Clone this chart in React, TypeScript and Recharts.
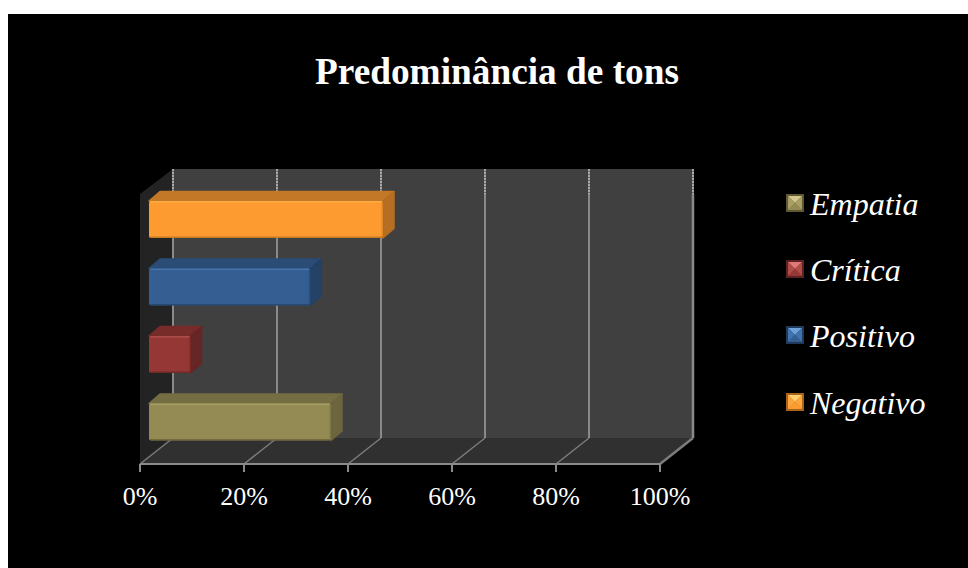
import { BarChart, Bar, XAxis, YAxis, CartesianGrid, Legend } from "recharts"

// De baixo para cima no gráfico
const categories = ["Empatia", "Crítica", "Positivo", "Negativo"]
const values = [35, 8, 31, 45]
const xTicks = [0, 20, 40, 60, 80, 100]

const rows = categories.map((name, i) => ({ name, [name]: values[i] }))

const SERIF = '"Liberation Serif", "Times New Roman", serif'

// front, top, side, light, mid, dark (swatch)
const palette: Record<string, { front: string; top: string; side: string; light: string; mid: string; dark: string }> = {
  Empatia: { front: "#948A54", top: "#766E43", side: "#6C653D", light: "#D2C88C", mid: "#A89E66", dark: "#5E5731" },
  Crítica: { front: "#953735", top: "#772C2A", side: "#662625", light: "#E07876", mid: "#B04C4A", dark: "#5C2120" },
  Positivo: { front: "#355F93", top: "#2A4C76", side: "#244166", light: "#6EA0DC", mid: "#4272AC", dark: "#1F3A5C" },
  Negativo: { front: "#FD9A30", top: "#C27826", side: "#B56E22", light: "#FFD070", mid: "#FDA63C", dark: "#A8641C" },
}

// profundidade da caixa 3D
const BOX_DX = 11
const BOX_DY = 9.5
// a barra fica no meio do piso, não no plano da frente
const BAR_SHIFT_X = 9
const BAR_SHIFT_Y = -8
// parede do fundo em relação ao plano da frente
const WALL_DX = 33
const WALL_DY = 26

function Box3D(props: any) {
  const { x, y, width, height, name } = props
  if (!width || width <= 0) return null
  const c = palette[name]
  const l = x + BAR_SHIFT_X
  const t = y + BAR_SHIFT_Y
  const r = l + width
  const b = t + height
  return (
    <g strokeLinejoin="round">
      <polygon
        points={`${l},${t} ${l + BOX_DX},${t - BOX_DY} ${r + BOX_DX},${t - BOX_DY} ${r},${t}`}
        fill={c.top}
        stroke={c.top}
        strokeWidth={1.5}
      />
      <polygon
        points={`${r},${t} ${r + BOX_DX},${t - BOX_DY} ${r + BOX_DX},${b - BOX_DY} ${r},${b}`}
        fill={c.side}
        stroke={c.side}
        strokeWidth={1.5}
      />
      <rect x={l} y={t} width={width} height={height} rx={2} fill={c.front} />
      <rect x={l + 1} y={t} width={width - 2} height={1.5} fill={c.light} opacity={0.35} />
      <rect x={l + 1} y={b - 1.5} width={width - 2} height={1.5} fill={c.dark} opacity={0.6} />
      <rect x={r - 1.5} y={t + 1} width={1.5} height={height - 2} fill={c.dark} opacity={0.35} />
    </g>
  )
}

// linha de grade: sobe pela parede do fundo e desce em diagonal pelo piso
function GridLine3D(props: any) {
  const { x1, y1, y2, index } = props
  const back = x1 + WALL_DX
  const isLast = x1 > 650
  return (
    <g key={index} fill="none">
      <line x1={back} y1={y1 - 25} x2={back} y2={y1} stroke="#6a6a6a" strokeWidth={2} />
      <line x1={back} y1={y1 - 25} x2={back} y2={y1} stroke="#a8a8a8" strokeWidth={2} strokeDasharray="2 1" />
      <line x1={back} y1={y1} x2={back} y2={y2 - WALL_DY} stroke="#8a8a8a" strokeWidth={isLast ? 2.5 : 2} />
      <line x1={back} y1={y2 - WALL_DY} x2={x1} y2={y2} stroke="#7c7c7c" strokeWidth={isLast ? 2.5 : 1.5} />
    </g>
  )
}

function Swatch({ y, name }: { y: number; name: string }) {
  const c = palette[name]
  const x = 6
  const s = 18
  const m = 2
  const cx = x + s / 2
  const cy = y + s / 2
  return (
    <g>
      <rect x={x} y={y} width={s} height={s} fill={c.dark} />
      <polygon points={`${x + m},${y + m} ${x + s - m},${y + m} ${cx},${cy}`} fill={c.light} />
      <polygon points={`${x + m},${y + s - m} ${x + s - m},${y + s - m} ${cx},${cy}`} fill={c.front} />
      <polygon points={`${x + m},${y + m} ${x + m},${y + s - m} ${cx},${cy}`} fill={c.mid} />
      <polygon points={`${x + s - m},${y + m} ${x + s - m},${y + s - m} ${cx},${cy}`} fill={c.mid} />
    </g>
  )
}

const legendBaselines = [35, 101, 167, 234]

function ToneLegend({ payload }: any) {
  return (
    <svg width={170} height={260} style={{ display: "block" }}>
      {(payload || []).map((entry: any, i: number) => (
        <g key={entry.value}>
          <Swatch y={legendBaselines[i] - 21} name={entry.value} />
          <text x={30} y={legendBaselines[i]} fill="#fff" fontFamily={SERIF} fontStyle="italic" fontSize={32}>
            {entry.value}
          </text>
        </g>
      ))}
    </svg>
  )
}

export default function App() {
  return (
    <div style={{ position: "absolute", left: 0, top: 0, width: 968, height: 568, background: "#fff", overflow: "hidden" }}>
      <div style={{ position: "absolute", left: 8, top: 14, width: 960, height: 554, background: "#000" }} />
      {/* paredes e piso ficam atrás do gráfico, que tem fundo transparente */}
      <svg width={968} height={568} style={{ position: "absolute", left: 0, top: 0 }}>
        <polygon points="173,169 693,169 693,438 173,438" fill="#404040" />
        <polygon points="173,169 173,438 140,464 140,194" fill="#232323" />
        <polygon points="173,438 693,438 660,464 140,464" fill="#303030" />
      </svg>
      <div style={{ position: "absolute", left: 0, top: 0 }}>
        <BarChart
          width={968}
          height={568}
          data={rows}
          layout="vertical"
          margin={{ top: 194, right: 308, bottom: 0, left: 140 }}
        >
          <text x={497} y={84} textAnchor="middle" fill="#fff" fontFamily={SERIF} fontWeight="bold" fontSize={37.3}>
            Predominância de tons
          </text>
          <CartesianGrid horizontal={false} vertical={GridLine3D} />
          <XAxis
            type="number"
            domain={[0, 100]}
            ticks={xTicks}
            interval={0}
            height={104}
            tickFormatter={(v: number) => `${v}%`}
            tick={{ fill: "#fff", fontSize: 26, fontFamily: SERIF }}
            tickSize={8}
            tickMargin={15}
            axisLine={{ stroke: "#8a8a8a", strokeWidth: 2 }}
            tickLine={{ stroke: "#8a8a8a", strokeWidth: 2 }}
          />
          <YAxis type="category" dataKey="name" hide reversed width={0} />
          {categories.map((name) => (
            <Bar
              key={name}
              dataKey={name}
              name={name}
              stackId="tons"
              barSize={37}
              fill={palette[name].front}
              shape={(p: any) => <Box3D {...p} name={name} />}
              isAnimationActive={false}
            />
          ))}
          <Legend
            layout="horizontal"
            verticalAlign="middle"
            align="center"
            itemSorter={null}
            content={ToneLegend}
            wrapperStyle={{ position: "absolute", left: 780, top: 180, width: 170, height: 260 }}
          />
        </BarChart>
      </div>
    </div>
  )
}
